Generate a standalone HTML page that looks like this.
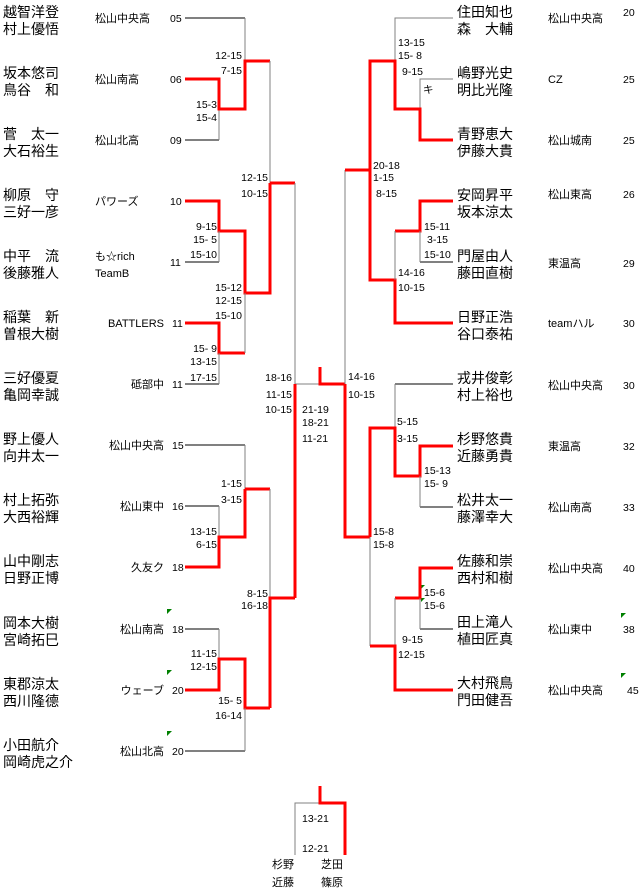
<!DOCTYPE html>
<html><head><meta charset="utf-8"><style>
html,body{margin:0;padding:0;background:#fff;}
svg{display:block;font-family:"Liberation Sans","Noto Sans CJK JP",sans-serif;}
.n{font-size:14px;fill:#000}
.t{font-size:11px;fill:#000}
.s{font-size:10.5px;fill:#000}
.e{text-anchor:end}
.g{stroke:#808080;stroke-width:1;fill:none}
.k{stroke:#000;stroke-width:1;fill:none}
.r{stroke:#ff0000;stroke-width:3;fill:none}
</style></head><body>
<svg width="640" height="890" viewBox="0 0 640 890" xmlns="http://www.w3.org/2000/svg">
<!-- LEFT names -->
<g class="n">
<text x="3" y="17">越智洋登</text><text x="3" y="34">村上優悟</text>
<text x="3" y="78">坂本悠司</text><text x="3" y="95">鳥谷　和</text>
<text x="3" y="139">菅　太一</text><text x="3" y="156">大石裕生</text>
<text x="3" y="200">柳原　守</text><text x="3" y="217">三好一彦</text>
<text x="3" y="261">中平　流</text><text x="3" y="278">後藤雅人</text>
<text x="3" y="322">稲葉　新</text><text x="3" y="339">曽根大樹</text>
<text x="3" y="383">三好優夏</text><text x="3" y="400">亀岡幸誠</text>
<text x="3" y="444">野上優人</text><text x="3" y="461">向井太一</text>
<text x="3" y="505">村上拓弥</text><text x="3" y="522">大西裕輝</text>
<text x="3" y="566">山中剛志</text><text x="3" y="583">日野正博</text>
<text x="3" y="628">岡本大樹</text><text x="3" y="645">宮崎拓巳</text>
<text x="3" y="689">東郡涼太</text><text x="3" y="706">西川隆德</text>
<text x="3" y="750">小田航介</text><text x="3" y="767">岡崎虎之介</text>
</g>
<!-- LEFT teams -->
<g class="t">
<text x="95" y="22">松山中央高</text>
<text x="95" y="83">松山南高</text>
<text x="95" y="144">松山北高</text>
<text x="95" y="205">パワーズ</text>
<text x="95" y="260">も☆rich</text><text x="95" y="277">TeamB</text>
<text x="164" y="327" class="e">BATTLERS</text>
<text x="164" y="388" class="e">砥部中</text>
<text x="164" y="449" class="e">松山中央高</text>
<text x="164" y="510" class="e">松山東中</text>
<text x="164" y="571" class="e">久友ク</text>
<text x="164" y="633" class="e">松山南高</text>
<text x="164" y="694" class="e">ウェーブ</text>
<text x="164" y="755" class="e">松山北高</text>
</g>
<g class="s">
<text x="170" y="22">05</text><text x="170" y="83">06</text><text x="170" y="144">09</text>
<text x="170" y="205">10</text><text x="170" y="266">11</text><text x="172" y="327">11</text>
<text x="172" y="388">11</text><text x="172" y="449">15</text><text x="172" y="510">16</text>
<text x="172" y="571">18</text><text x="172" y="633">18</text><text x="172" y="694">20</text>
<text x="172" y="755">20</text>
</g>
<!-- green marks -->
<g fill="#008000">
<polygon points="167,609 172,609 167,614"/>
<polygon points="167,670 172,670 167,675"/>
<polygon points="167,731 172,731 167,736"/>
<polygon points="421,585 425,585 421,589"/>
<polygon points="421,598 425,598 421,602"/>
<polygon points="621,613 626,613 621,618"/>
<polygon points="621,673 626,673 621,678"/>
</g>
<!-- LEFT lines -->
<polyline class="k" points="185,18 245,18"/>
<polyline class="g" points="245,18 245,61"/>
<polyline class="k" points="185,140 219,140"/>
<polyline class="g" points="219,140 219,109"/>
<polyline class="r" points="185,79 219,79 219,109 245,109 245,61 270,61"/>
<polyline class="g" points="270,61 270,183"/>
<polyline class="r" points="270,183 295,183"/>
<polyline class="r" points="185,201 219,201 219,231 245,231 245,293 270,293 270,183"/>
<polyline class="k" points="185,262 219,262"/>
<polyline class="g" points="219,262 219,231"/>
<polyline class="r" points="185,323 219,323 219,353 245,353"/>
<polyline class="g" points="245,353 245,293"/>
<polyline class="k" points="185,384 219,384"/>
<polyline class="g" points="219,384 219,353"/>
<polyline class="g" points="295,183 295,384 320,384"/>
<polyline class="r" points="320,367 320,384 345,384"/>
<polyline class="r" points="295,384 295,598"/>
<polyline class="k" points="185,445 245,445"/>
<polyline class="g" points="245,445 245,489"/>
<polyline class="r" points="245,489 270,489"/>
<polyline class="k" points="185,506 219,506"/>
<polyline class="g" points="219,506 219,537"/>
<polyline class="r" points="185,567 219,567 219,537 245,537 245,489"/>
<polyline class="g" points="270,489 270,598"/>
<polyline class="r" points="295,598 270,598 270,708"/>
<polyline class="k" points="185,629 219,629"/>
<polyline class="g" points="219,629 219,659"/>
<polyline class="r" points="185,690 219,690 219,659 245,659 245,708 270,708"/>
<polyline class="k" points="185,751 245,751"/>
<polyline class="g" points="245,751 245,708"/>
<!-- LEFT scores -->
<g class="s e">
<text x="242" y="59">12-15</text><text x="242" y="74">7-15</text>
<text x="217" y="108">15-3</text><text x="217" y="121">15-4</text>
<text x="268" y="181">12-15</text><text x="268" y="197">10-15</text>
<text x="217" y="230">9-15</text><text x="217" y="243">15- 5</text><text x="217" y="258">15-10</text>
<text x="242" y="291">15-12</text><text x="242" y="304">12-15</text><text x="242" y="319">15-10</text>
<text x="217" y="352">15- 9</text><text x="217" y="365">13-15</text><text x="217" y="381">17-15</text>
<text x="292" y="381">18-16</text><text x="292" y="398">11-15</text><text x="292" y="413">10-15</text>
<text x="242" y="487">1-15</text><text x="242" y="503">3-15</text>
<text x="217" y="535">13-15</text><text x="217" y="548">6-15</text>
<text x="268" y="597">8-15</text><text x="268" y="609">16-18</text>
<text x="217" y="657">11-15</text><text x="217" y="670">12-15</text>
<text x="242" y="704">15- 5</text><text x="242" y="719">16-14</text>
</g>
<g class="s">
<text x="302" y="413">21-19</text><text x="302" y="426">18-21</text><text x="302" y="442">11-21</text>
<text x="348" y="380">14-16</text><text x="348" y="398">10-15</text>
</g>
<!-- RIGHT lines -->
<polyline class="g" points="345,170 345,384"/>
<polyline class="r" points="345,384 345,537 370,537"/>
<polyline class="r" points="345,170 370,170"/>
<polyline class="g" points="453,18 395,18 395,61"/>
<polyline class="g" points="453,79 420,79 420,109"/>
<polyline class="r" points="453,140 420,140 420,109 395,109 395,61 370,61 370,280 395,280 395,323 453,323"/>
<polyline class="r" points="453,201 420,201 420,231 395,231"/>
<polyline class="g" points="395,231 395,280"/>
<polyline class="k" points="420,262 453,262"/>
<polyline class="g" points="420,262 420,231"/>
<polyline class="k" points="395,384 453,384"/>
<polyline class="g" points="395,384 395,428"/>
<polyline class="r" points="453,446 420,446 420,476 395,476 395,428 370,428 370,537"/>
<polyline class="k" points="420,507 453,507"/>
<polyline class="g" points="420,507 420,476"/>
<polyline class="g" points="370,537 370,646"/>
<polyline class="r" points="453,568 420,568 420,598 395,598"/>
<polyline class="k" points="420,629 453,629"/>
<polyline class="g" points="420,629 420,598"/>
<polyline class="g" points="395,598 395,646"/>
<polyline class="r" points="370,646 395,646 395,690 453,690"/>
<!-- RIGHT scores -->
<g class="s">
<text x="398" y="46">13-15</text><text x="398" y="59">15- 8</text><text x="402" y="75">9-15</text>
<text x="423" y="93">キ</text>
<text x="373" y="169">20-18</text><text x="373" y="181">1-15</text><text x="376" y="197">8-15</text>
<text x="424" y="230">15-11</text><text x="427" y="243">3-15</text><text x="424" y="258">15-10</text>
<text x="398" y="276">14-16</text><text x="398" y="291">10-15</text>
<text x="397" y="425">5-15</text><text x="397" y="442">3-15</text>
<text x="424" y="474">15-13</text><text x="424" y="487">15- 9</text>
<text x="373" y="535">15-8</text><text x="373" y="548">15-8</text>
<text x="424" y="596">15-6</text><text x="424" y="609">15-6</text>
<text x="402" y="643">9-15</text><text x="398" y="658">12-15</text>
</g>
<!-- RIGHT names -->
<g class="n">
<text x="457" y="17">住田知也</text><text x="457" y="34">森　大輔</text>
<text x="457" y="78">嶋野光史</text><text x="457" y="95">明比光隆</text>
<text x="457" y="139">青野恵大</text><text x="457" y="156">伊藤大貴</text>
<text x="457" y="200">安岡昇平</text><text x="457" y="217">坂本涼太</text>
<text x="457" y="261">門屋由人</text><text x="457" y="278">藤田直樹</text>
<text x="457" y="322">日野正浩</text><text x="457" y="339">谷口泰祐</text>
<text x="457" y="383">戎井俊彰</text><text x="457" y="400">村上裕也</text>
<text x="457" y="444">杉野悠貴</text><text x="457" y="461">近藤勇貴</text>
<text x="457" y="505">松井太一</text><text x="457" y="522">藤澤幸大</text>
<text x="457" y="566">佐藤和崇</text><text x="457" y="583">西村和樹</text>
<text x="457" y="627">田上滝人</text><text x="457" y="644">植田匠真</text>
<text x="457" y="688">大村飛鳥</text><text x="457" y="705">門田健吾</text>
</g>
<g class="t">
<text x="548" y="22">松山中央高</text><text x="548" y="83">CZ</text>
<text x="548" y="144">松山城南</text><text x="548" y="198">松山東高</text>
<text x="548" y="267">東温高</text><text x="548" y="327">teamハル</text>
<text x="548" y="389">松山中央高</text><text x="548" y="450">東温高</text>
<text x="548" y="511">松山南高</text><text x="548" y="572">松山中央高</text>
<text x="548" y="633">松山東中</text><text x="548" y="694">松山中央高</text>
</g>
<g class="s">
<text x="623" y="16">20</text><text x="623" y="83">25</text><text x="623" y="144">25</text>
<text x="623" y="198">26</text><text x="623" y="267">29</text><text x="623" y="327">30</text>
<text x="623" y="389">30</text><text x="623" y="450">32</text><text x="623" y="511">33</text>
<text x="623" y="572">40</text><text x="623" y="633">38</text><text x="627" y="694">45</text>
</g>
<!-- bottom match -->
<polyline class="g" points="295,855 295,803 320,803"/>
<polyline class="r" points="320,786 320,803 345,803 345,855"/>
<g class="s"><text x="302" y="822">13-21</text><text x="302" y="852">12-21</text></g>
<g class="t">
<text x="272" y="868">杉野</text><text x="272" y="886">近藤</text>
<text x="321" y="868">芝田</text><text x="321" y="886">篠原</text>
</g>
</svg>
</body></html>
